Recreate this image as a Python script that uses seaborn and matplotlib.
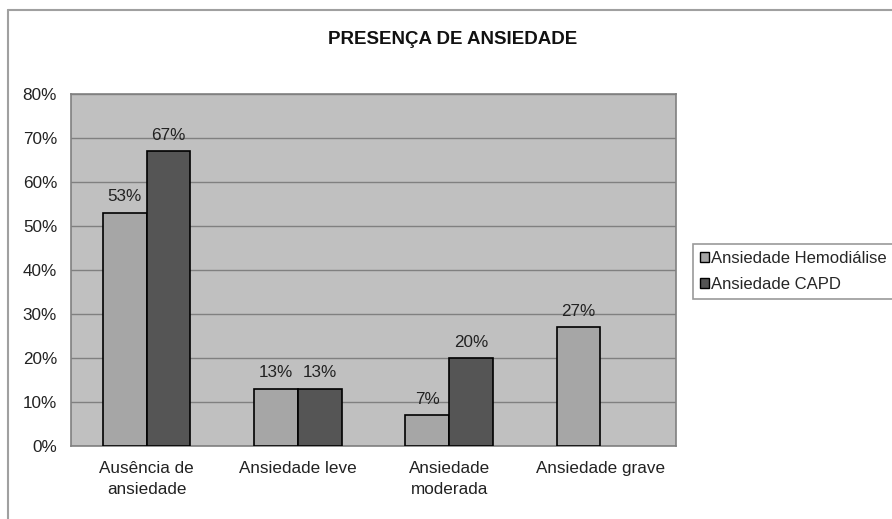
import matplotlib
matplotlib.use("Agg")
import matplotlib.pyplot as plt
import matplotlib.lines as lines
from matplotlib.patches import Patch
from matplotlib.ticker import FuncFormatter, FixedLocator
import pandas as pd
import seaborn as sns

# Dados do gráfico
categorias = ["Ausência de\nansiedade", "Ansiedade leve", "Ansiedade\nmoderada", "Ansiedade grave"]
series = ["Ansiedade Hemodiálise", "Ansiedade CAPD"]
hemodialise = [53, 13, 7, 27]
capd = [67, 13, 20, 0]
yticks = [0, 10, 20, 30, 40, 50, 60, 70, 80]

cores = ["#a6a6a6", "#555555"]
cinza = "#808080"
fs = 12.3

df = pd.DataFrame({
    "categoria": categorias * 2,
    "serie": [series[0]] * len(categorias) + [series[1]] * len(categorias),
    "valor": hemodialise + capd,
})

sns.set_style("white")
plt.rcParams["font.family"] = ["Liberation Sans", "DejaVu Sans"]

W, H = 892, 519
fig = plt.figure(figsize=(W / 100, H / 100), dpi=100)
ax = fig.add_axes([71 / W, 1 - 446 / H, (676 - 71) / W, (446 - 94) / H])
ax.set_facecolor("#c0c0c0")

sns.barplot(data=df, x="categoria", y="valor", hue="serie", palette=cores,
            width=0.58, edgecolor="black", linewidth=1.2, ax=ax, legend=False,
            zorder=3)

# Rótulos de valores (barras nulas ficam ocultas)
for cont in ax.containers:
    for b in cont:
        if b.get_height() == 0:
            b.set_visible(False)
    rotulos = [f"{b.get_height():.0f}%" if b.get_height() > 0 else "" for b in cont]
    ax.bar_label(cont, labels=rotulos, padding=6, fontsize=fs, color="#222222")

ax.set_ylim(0, 80)
ax.set_xlim(-0.5, len(categorias) - 0.5)
ax.yaxis.set_major_locator(FixedLocator(yticks))
ax.yaxis.set_major_formatter(FuncFormatter(lambda v, p: f"{v:.0f}%"))
ax.grid(axis="y", color=cinza, linewidth=1, zorder=0)
ax.set_axisbelow(True)
ax.set_xlabel("")
ax.set_ylabel("")

# Marcas do eixo x entre categorias
ax.set_xticks([i - 0.5 for i in range(len(categorias) + 1)], minor=True)
ax.tick_params(axis="x", which="major", length=0, labelsize=fs, pad=11, colors="#222222")
ax.tick_params(axis="x", which="minor", length=5, color=cinza, width=1)
ax.tick_params(axis="y", length=5, color=cinza, width=1, labelsize=fs, labelcolor="#222222", pad=5)
for t in ax.get_xticklabels():
    t.set_linespacing(1.45)

for s in ax.spines.values():
    s.set_color(cinza)
    s.set_linewidth(1.2)

fig.text(453 / W, 1 - 40 / H, "PRESENÇA DE ANSIEDADE", ha="center", va="center",
         fontsize=13.5, fontweight="bold", color="#111111")

handles = [Patch(facecolor=c, edgecolor="black", linewidth=1) for c in cores]
leg = ax.legend(handles, series, loc="center left",
                bbox_to_anchor=(693 / W, 1 - 271.5 / H), bbox_transform=fig.transFigure,
                frameon=True, fancybox=False, edgecolor=cinza, fontsize=12,
                handlelength=0.55, handleheight=0.55, handletextpad=0.15,
                borderpad=0.4, borderaxespad=0, labelspacing=0.65)
leg.get_frame().set_linewidth(1.2)

# Moldura externa
fig.add_artist(lines.Line2D([8 / W, 8 / W], [0, 1 - 10 / H], color="#a0a0a0", linewidth=1.5))
fig.add_artist(lines.Line2D([8 / W, 1], [1 - 10 / H, 1 - 10 / H], color="#a0a0a0", linewidth=1.5))

fig.savefig("out.png", dpi=100)
